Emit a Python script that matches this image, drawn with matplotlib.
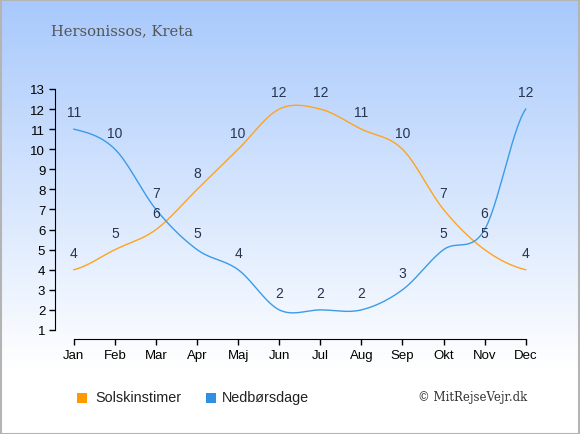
import numpy as np
import matplotlib
matplotlib.use("Agg")
import matplotlib.pyplot as plt
from matplotlib.patches import Rectangle
from matplotlib.colors import LinearSegmentedColormap

months = ["Jan", "Feb", "Mar", "Apr", "Maj", "Jun", "Jul", "Aug", "Sep", "Okt", "Nov", "Dec"]
sun_hours = [4, 5, 6, 8, 10, 12, 12, 11, 10, 7, 5, 4]
rain_days = [11, 10, 7, 5, 4, 2, 2, 2, 3, 5, 6, 12]
title = "Hersonissos, Kreta"
legend_labels = ["Solskinstimer", "Nedbørsdage"]
credit = "© MitRejseVejr.dk"

SUN_COLOR = "#ffa31f"
RAIN_COLOR = "#3b9be8"
LABEL_COLOR = "#27344f"


def smooth(y, n=30):
    y = np.asarray(y, float)
    x = np.arange(len(y), dtype=float)
    p = np.concatenate([[y[0]], y, [y[-1]]])
    xs, ys = [], []
    for i in range(len(y) - 1):
        p0, p1, p2, p3 = p[i], p[i + 1], p[i + 2], p[i + 3]
        t = np.linspace(0, 1, n, endpoint=False)
        m1 = (p2 - p0) / 2
        m2 = (p3 - p1) / 2
        h00 = 2 * t**3 - 3 * t**2 + 1
        h10 = t**3 - 2 * t**2 + t
        h01 = -2 * t**3 + 3 * t**2
        h11 = t**3 - t**2
        ys.append(h00 * p1 + h10 * m1 + h01 * p2 + h11 * m2)
        xs.append(x[i] + t)
    xs.append([x[-1]])
    ys.append([y[-1]])
    return np.concatenate(xs), np.concatenate(ys)


fig = plt.figure(figsize=(5.8, 4.35), dpi=100)

# background gradient
bg = fig.add_axes([0, 0, 1, 1], zorder=-10)
grad = np.linspace(0, 1, 256).reshape(-1, 1)
cmap = LinearSegmentedColormap.from_list("bg", [(0, "#ffffff"), (0.15, "#ffffff"), (1.0, "#a8c9fc")])
bg.imshow(grad, aspect="auto", cmap=cmap, extent=[0, 1, 0, 1], origin="lower")
bg.set_xlim(0, 1)
bg.set_ylim(0, 1)
bg.axis("off")
bg.add_patch(Rectangle((0.001, 0.001), 0.997, 0.997, fill=False, edgecolor="#b4b4b4", lw=1.5,
                       transform=bg.transAxes))

ax = fig.add_axes([55 / 580, 1 - 340 / 435, (538 - 55) / 580, 250 / 435])
ax.patch.set_alpha(0)
x = np.arange(len(months))
xs, ys = smooth(sun_hours)
ax.plot(xs, ys, color=SUN_COLOR, lw=1.0)
xs, ys = smooth(rain_days)
ax.plot(xs, ys, color=RAIN_COLOR, lw=1.0)

for i in range(len(months)):
    ax.annotate(str(sun_hours[i]), (x[i], sun_hours[i]), xytext=(0, 7), textcoords="offset points",
                ha="center", va="bottom", fontsize=10, color=LABEL_COLOR, family="Liberation Sans")
    ax.annotate(str(rain_days[i]), (x[i], rain_days[i]), xytext=(0, 7), textcoords="offset points",
                ha="center", va="bottom", fontsize=10, color=LABEL_COLOR, family="Liberation Sans")

ax.set_xlim(-0.46, 11.3)
ax.set_ylim(0.55, 13)
ax.set_xticks(x)
ax.set_xticklabels(months)
ax.set_yticks(range(1, 14))
for s in ["top", "right"]:
    ax.spines[s].set_visible(False)
ax.spines["left"].set_bounds(1, 13)
ax.spines["bottom"].set_bounds(0, 11)
ax.tick_params(direction="out", length=4, width=1, labelsize=9.5, colors="black", pad=3)
for lab in ax.get_xticklabels() + ax.get_yticklabels():
    lab.set_family("Liberation Sans")

fig.text(51 / 580, 1 - 31 / 435, title, fontsize=10.6, color="#555555", family="DejaVu Serif",
         va="center", ha="left")

# legend
fig.patches.append(Rectangle((77 / 580, 1 - 404 / 435), 10 / 580, 10 / 435, facecolor="#ff9900",
                             edgecolor="none", transform=fig.transFigure))
fig.text(95 / 580, 1 - 398 / 435, legend_labels[0], fontsize=10.4, family="Liberation Sans",
         va="center", ha="left", color="#222222")
fig.patches.append(Rectangle((206 / 580, 1 - 404 / 435), 10 / 580, 10 / 435, facecolor="#2f8fe3",
                             edgecolor="none", transform=fig.transFigure))
fig.text(222 / 580, 1 - 398 / 435, legend_labels[1], fontsize=10.4, family="Liberation Sans",
         va="center", ha="left", color="#222222")
fig.text(527 / 580, 1 - 398 / 435, credit, fontsize=8.5, family="DejaVu Serif",
         va="center", ha="right", color="#333333")

fig.savefig("out.png", dpi=100)
